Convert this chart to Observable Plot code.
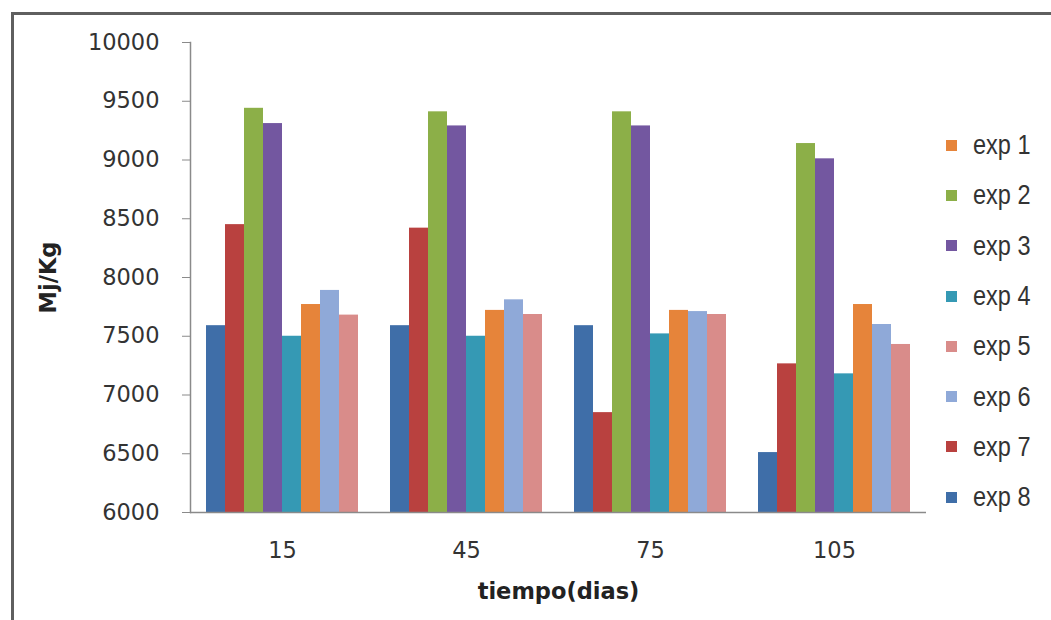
<!DOCTYPE html>
<html>
<head>
<meta charset="utf-8">
<script src="https://cdn.jsdelivr.net/npm/d3@7"></script>
<script src="https://cdn.jsdelivr.net/npm/@observablehq/plot@0.6"></script>
<style>
  html, body { margin: 0; padding: 0; background: #fff; }
  #wrap { position: relative; width: 1051px; height: 620px; overflow: hidden; background: #fff; }
  #border { position: absolute; left: 11px; top: 12px; width: 1100px; height: 700px;
            border-left: 3px solid #5f5f5f; border-top: 3px solid #5f5f5f; box-sizing: border-box; pointer-events: none; }
  #legend { position: absolute; left: 946px; top: 120px; font-family: "Liberation Sans Narrow", "Liberation Sans", sans-serif;
            font-size: 28px; color: #333; }
  #legend .item { height: 50.3px; display: flex; align-items: center; }
  #legend .sw { width: 11px; height: 11px; margin-right: 16px; flex: none; }
  #legend .lbl { display: inline-block; transform: scaleX(0.84); transform-origin: left center; white-space: nowrap; }
  g[aria-label="y-axis label"] text, g[aria-label="fx-axis label"] text { font-weight: bold; fill: #222; }
</style>
</head>
<body>
<div id="wrap"><div id="border"></div><div id="legend"></div></div>
<script>
// ---- data ----
const days = [15, 45, 75, 105];
const exps = ["exp 1", "exp 2", "exp 3", "exp 4", "exp 5", "exp 6", "exp 7", "exp 8"];
const barOrder = ["exp 8", "exp 7", "exp 2", "exp 3", "exp 4", "exp 1", "exp 6", "exp 5"];
const exp1 = [7770, 7720, 7720, 7770];
const exp2 = [9440, 9410, 9410, 9140];
const exp3 = [9310, 9290, 9290, 9010];
const exp4 = [7500, 7500, 7520, 7180];
const exp5 = [7680, 7685, 7685, 7430];
const exp6 = [7890, 7810, 7710, 7600];
const exp7 = [8450, 8420, 6850, 7265];
const exp8 = [7590, 7590, 7590, 6510];
const colors = ["#E6843A", "#8CAF48", "#7357A0", "#3599B4", "#D98C8A", "#8FA9D8", "#B9413F", "#3F6EA8"];
const yDomain = [6000, 10000];
const yTicks = [6000, 6500, 7000, 7500, 8000, 8500, 9000, 9500, 10000];

const series = [exp1, exp2, exp3, exp4, exp5, exp6, exp7, exp8];
const data = [];
days.forEach((d, i) => exps.forEach((e, j) => data.push({day: d, exp: e, value: series[j][i]})));

const chart = Plot.plot({
  width: 1051,
  height: 620,
  marginLeft: 188,
  marginRight: 124,
  marginTop: 42,
  marginBottom: 108,
  style: {fontFamily: "DejaVu Sans", fontSize: "22.5px", background: "transparent", color: "#333"},
  fx: {domain: days, paddingInner: 0, paddingOuter: 0},
  x: {domain: barOrder, paddingInner: 0, paddingOuter: 0.8, axis: null},
  y: {domain: yDomain},
  color: {domain: exps, range: colors},
  marks: [
    Plot.barY(data, {fx: "day", x: "exp", y1: () => yDomain[0], y2: "value", fill: "exp"}),
    Plot.ruleY([yDomain[0]], {stroke: "#8a8a8a", strokeWidth: 1.5}),
    Plot.frame({anchor: "left", facetAnchor: "left", stroke: "#8a8a8a", strokeWidth: 1.5}),
    Plot.axisY({ticks: yTicks, tickSize: 8, tickPadding: 23, stroke: "#8a8a8a", fill: "#333",
                label: "Mj/Kg", labelAnchor: "center", labelArrow: "none", labelOffset: 150, tickFormat: d => String(d)}),
    Plot.axisFx({anchor: "bottom", tickSize: 0, tickPadding: 30, fill: "#333",
                 label: "tiempo(dias)", labelAnchor: "center", labelArrow: "none", labelOffset: 86})
  ]
});
document.getElementById("wrap").insertBefore(chart, document.getElementById("border"));
chart.style.position = "absolute";
chart.style.left = "0px";
chart.style.top = "0px";

const legend = document.getElementById("legend");
exps.forEach((e, i) => {
  const item = document.createElement("div");
  item.className = "item";
  const sw = document.createElement("div");
  sw.className = "sw";
  sw.style.background = colors[i];
  const t = document.createElement("span");
  t.className = "lbl";
  t.textContent = e;
  item.appendChild(sw);
  item.appendChild(t);
  legend.appendChild(item);
});
</script>
</body>
</html>
